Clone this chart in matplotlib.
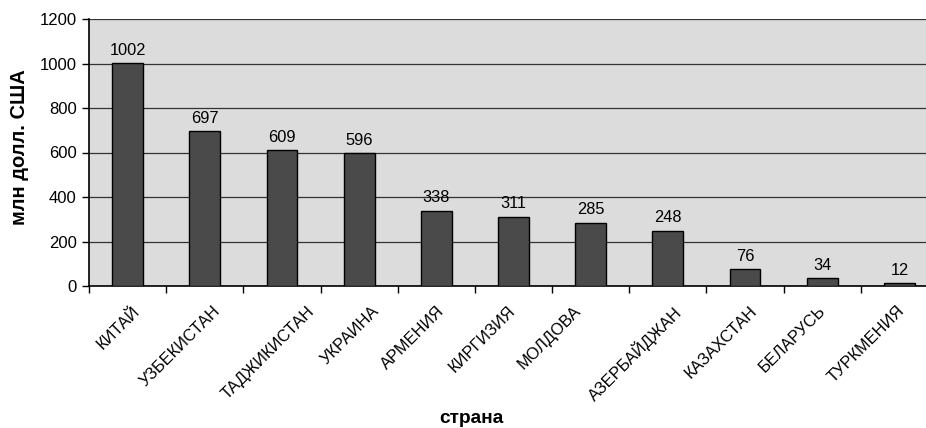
import matplotlib
matplotlib.use("Agg")
import matplotlib.pyplot as plt
from matplotlib.transforms import ScaledTranslation
import numpy as np

categories = ["КИТАЙ", "УЗБЕКИСТАН", "ТАДЖИКИСТАН", "УКРАИНА", "АРМЕНИЯ",
              "КИРГИЗИЯ", "МОЛДОВА", "АЗЕРБАЙДЖАН", "КАЗАХСТАН", "БЕЛАРУСЬ", "ТУРКМЕНИЯ"]
values = [1002, 697, 609, 596, 338, 311, 285, 248, 76, 34, 12]
yticks = [0, 200, 400, 600, 800, 1000, 1200]

# layout nudges (pixels) for the rotated category labels, as placed in the original
label_nudge_px = [4, 8, 25, 12, 0, -6, -18, 5, 4, -5, -3]

plt.rcParams['font.family'] = ['Liberation Sans', 'DejaVu Sans']

fig = plt.figure(figsize=(9.26, 4.28), dpi=100)
W, H = 926, 428
left, right, top, bottom = 89, 938, 19, 286
ax = fig.add_axes([left / W, (H - bottom) / H, (right - left) / W, (bottom - top) / H])
ax.set_facecolor('#dcdcdc')

x = np.arange(len(categories))
bars = ax.bar(x, values, width=0.4, color='#4a4a4a', edgecolor='black', linewidth=1.0, zorder=3)
for xi, v in zip(x, values):
    ax.text(xi, v + 24, str(v), ha='center', va='bottom', fontsize=11.8, zorder=4)

ax.set_xlim(-0.5, len(categories) - 0.5)
ax.set_ylim(0, 1200)
ax.set_yticks(yticks)
ax.set_yticklabels([str(t) for t in yticks], fontsize=12)
ax.yaxis.grid(True, color='#333333', linewidth=0.9, zorder=0)
ax.set_axisbelow(True)

ax.set_xticks(np.arange(len(categories) + 1) - 0.5, minor=False)
ax.set_xticklabels([])
ax.set_xticks(x, minor=True)
ax.set_xticklabels(categories, minor=True, rotation=45, ha='right', va='top',
                   rotation_mode='anchor', fontsize=11.8)
ax.tick_params(axis='x', which='minor', length=0, pad=12.5)
ax.tick_params(axis='x', which='major', length=5, width=1, direction='out')
ax.tick_params(axis='y', length=5, width=1, direction='out', pad=4)
for lab, dx in zip(ax.get_xticklabels(minor=True), label_nudge_px):
    lab.set_transform(lab.get_transform() + ScaledTranslation(dx / 100, 0, fig.dpi_scale_trans))

for s in ['top', 'right']:
    ax.spines[s].set_visible(False)
ax.spines['left'].set_linewidth(1.2)
ax.spines['bottom'].set_linewidth(1.2)

fig.text(19.5 / W, 1 - 147 / H, 'млн долл. США', rotation=90, ha='center', va='center',
         fontsize=14.5, fontweight='bold')
fig.text(471.5 / W, 1 - 423 / H, 'страна', ha='center', va='baseline',
         fontsize=13.8, fontweight='bold')

fig.savefig('out.png', dpi=100)
